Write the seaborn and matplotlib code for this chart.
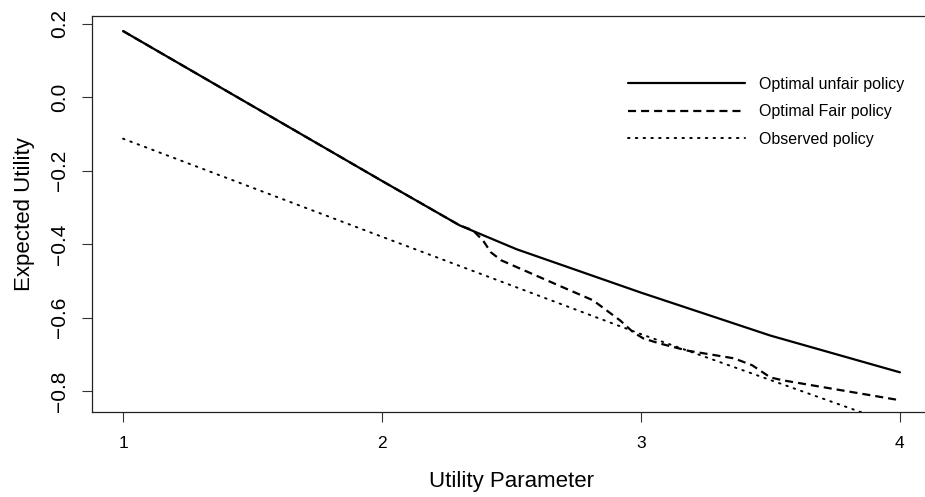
import matplotlib
matplotlib.use("Agg")
import matplotlib.pyplot as plt
import seaborn as sns
import pandas as pd

# ---- data ----
unfair_x = [1.0, 1.5, 2.0, 2.3, 2.52, 3.0, 3.5, 4.0]
unfair_y = [0.18, -0.024, -0.228, -0.349, -0.414, -0.532, -0.649, -0.749]

fair_x = [1.0, 1.5, 2.0, 2.3, 2.35, 2.39, 2.42, 2.46, 2.7, 2.815, 2.92, 2.97,
          3.01, 3.07, 3.18, 3.36, 3.43, 3.5, 3.55, 4.0]
fair_y = [0.18, -0.024, -0.228, -0.349, -0.362, -0.39, -0.422, -0.444, -0.518,
          -0.553, -0.608, -0.64, -0.657, -0.67, -0.69, -0.711, -0.73, -0.763,
          -0.771, -0.825]

obs_x = [1.0, 2.0, 3.0, 3.5, 4.0]
obs_y = [-0.113, -0.38, -0.645, -0.77, -0.895]

labels = ["Optimal unfair policy", "Optimal Fair policy", "Observed policy"]
x_ticks = [1, 2, 3, 4]
y_ticks = [0.2, 0.0, -0.2, -0.4, -0.6, -0.8]
y_tick_labels = ["0.2", "0.0", "\u22120.2", "\u22120.4", "\u22120.6", "\u22120.8"]
x_label = "Utility Parameter"
y_label = "Expected Utility"

sns.set_style("ticks")
plt.rcParams["font.family"] = ["Liberation Sans", "DejaVu Sans"]
plt.rcParams["lines.scale_dashes"] = False
plt.rcParams["text.color"] = "black"
plt.rcParams["axes.labelcolor"] = "black"

fig = plt.figure(figsize=(9.25, 4.97), dpi=100)
ax = fig.add_axes([92 / 925, 1 - 412 / 497, 839 / 925, 396 / 497])

df_u = pd.DataFrame({"x": unfair_x, "y": unfair_y})
df_f = pd.DataFrame({"x": fair_x, "y": fair_y})
df_o = pd.DataFrame({"x": obs_x, "y": obs_y})

sns.lineplot(data=df_u, x="x", y="y", ax=ax, color="black", lw=1.6,
             label=labels[0], sort=False)
sns.lineplot(data=df_f, x="x", y="y", ax=ax, color="black", lw=1.6,
             label=labels[1], sort=False)
sns.lineplot(data=df_o, x="x", y="y", ax=ax, color="black", lw=1.4,
             label=labels[2], sort=False)
lines = ax.get_lines()
lines[1].set_dashes((5.8, 3.6))
lines[2].set_dashes((1.1, 4.5))
lines[2].set_dash_capstyle("round")

ax.set_xlim(0.88, 4.12)
ax.set_ylim(-0.857, 0.221)
ax.set_xticks(x_ticks)
ax.set_xticklabels([str(t) for t in x_ticks], fontsize=12.5)
ax.set_yticks(y_ticks)
ax.set_yticklabels(y_tick_labels, fontsize=15, rotation=90, va="center")

for s in ax.spines.values():
    s.set_visible(True)
    s.set_color("#222222")
    s.set_linewidth(0.9)

ax.tick_params(axis="both", direction="out", length=7.2, width=0.8,
               color="#333333", labelcolor="black", bottom=True, left=True,
               top=False, right=False)
ax.tick_params(axis="x", pad=10)
ax.tick_params(axis="y", pad=9)

ax.set_xlabel(x_label, fontsize=16)
ax.set_ylabel(y_label, fontsize=16)
ax.xaxis.set_label_coords(0.5, -0.148)
ax.yaxis.set_label_coords(-0.068, 0.5)

leg = ax.legend(loc="upper left", bbox_to_anchor=(628 / 925, 1 - 77 / 497),
                bbox_transform=fig.transFigure, frameon=False, fontsize=11.5,
                handlelength=7.3, handletextpad=0.9, labelspacing=0.78,
                borderpad=0, borderaxespad=0)

fig.savefig("out.png", dpi=100)
